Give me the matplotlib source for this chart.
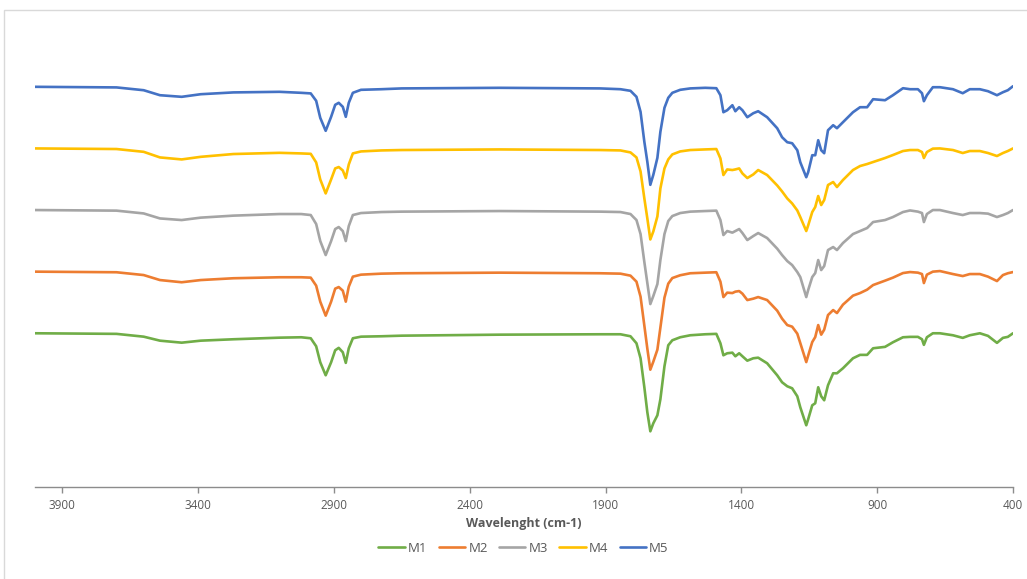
import matplotlib
matplotlib.use("Agg")
import matplotlib.pyplot as plt
from matplotlib.patches import Rectangle

plt.rcParams['font.family'] = ['Open Sans', 'DejaVu Sans']

# wavenumbers (cm-1) shared by all spectra
wavenumber = [
    4000, 3700, 3600, 3540, 3460, 3390, 3270, 3100,
    3020, 2985, 2965, 2950, 2930, 2910, 2895, 2882, 2867, 2856, 2845, 2830, 2800, 2725,
    2650, 2290, 1920,
    1845, 1808, 1786, 1771, 1757, 1746, 1735, 1724, 1709, 1698, 1683, 1669, 1654, 1625, 1588, 1533,
    1492, 1477, 1466, 1452, 1433, 1422, 1408, 1396, 1378, 1356, 1338, 1305, 1268, 1250, 1231, 1213,
    1194, 1183, 1161, 1154, 1139, 1128, 1117, 1106, 1095, 1081, 1062, 1048, 1026, 989, 963, 937,
    915, 871, 842, 805, 779, 750, 735, 728, 717, 695, 669, 621, 585, 559, 522, 492, 459, 437, 419, 400,
]

# transmittance (%)
m1 = [
    100.0, 99.7, 98.3, 96.3, 95.3, 96.3, 97.0, 97.8,
    98.0, 97.5, 93.5, 85.5, 79.0, 85.5, 91.5, 92.7, 90.5, 85.2, 92.5, 97.5, 98.3, 98.5,
    98.8, 99.3, 99.5,
    99.5, 98.5, 95.0, 87.5, 73.0, 60.5, 51.0, 55.0, 59.0, 67.0, 83.5, 94.0, 96.5, 98.0, 99.0, 99.5,
    99.7, 95.0, 89.0, 90.0, 90.3, 88.5, 90.0, 88.5, 86.3, 87.5, 87.8, 85.0, 79.0, 75.5, 73.5, 72.5,
    68.5, 63.0, 54.0, 57.0, 64.0, 65.0, 73.0, 68.5, 66.5, 74.0, 80.0, 80.0, 82.5, 87.5, 89.2, 89.2,
    92.5, 93.2, 95.5, 98.0, 98.2, 98.2, 97.0, 94.2, 98.0, 100.0, 100.0, 99.0, 97.7, 99.0, 100.0, 98.7,
    95.2, 97.7, 98.2, 100.0,
]
m2 = [
    100.0, 99.7, 98.3, 95.8, 94.7, 95.8, 96.7, 97.2,
    97.2, 97.0, 93.0, 85.0, 78.0, 85.0, 91.5, 92.3, 90.5, 85.0, 92.5, 97.5, 98.5, 99.0,
    99.2, 99.5, 99.2,
    99.0, 98.0, 95.0, 87.5, 73.0, 61.5, 51.0, 55.0, 61.0, 72.0, 87.0, 94.0, 96.8, 98.2, 99.2, 99.5,
    99.7, 95.0, 87.3, 89.5, 89.3, 90.0, 90.3, 89.0, 85.8, 86.5, 87.3, 85.8, 80.5, 76.5, 73.3, 72.5,
    69.0, 64.3, 54.8, 58.0, 64.8, 67.3, 73.3, 68.5, 71.0, 78.3, 80.8, 79.3, 83.5, 88.0, 89.3, 91.0,
    93.3, 95.5, 97.0, 99.3, 99.8, 99.5, 98.8, 94.3, 98.5, 100.0, 100.3, 98.8, 97.8, 98.8, 98.8, 97.5,
    95.3, 98.3, 99.2, 99.8,
]
m3 = [
    100.0, 99.7, 98.3, 95.8, 95.0, 96.2, 97.2, 98.0,
    98.0, 97.5, 93.0, 84.5, 77.5, 84.5, 90.5, 91.5, 89.5, 84.5, 92.0, 97.5, 98.5, 99.0,
    99.2, 99.5, 99.2,
    99.0, 98.0, 95.0, 88.0, 74.0, 63.5, 53.0, 57.0, 63.0, 75.0, 88.0, 94.5, 97.0, 98.5, 99.2, 99.5,
    99.7, 95.0, 87.5, 89.5, 88.7, 89.5, 90.5, 88.5, 85.0, 87.0, 88.5, 86.0, 80.7, 77.5, 74.5, 72.5,
    69.0, 66.5, 56.5, 60.0, 66.5, 68.5, 75.0, 70.0, 72.0, 80.0, 81.5, 80.0, 83.5, 88.0, 89.5, 91.0,
    94.0, 95.0, 96.5, 99.0, 99.8, 99.2, 98.5, 94.0, 98.0, 100.0, 100.0, 98.5, 97.5, 98.5, 98.5, 98.2,
    96.5, 97.5, 98.5, 100.0,
]
m4 = [
    100.0, 99.7, 98.3, 95.5, 94.5, 95.8, 97.2, 97.8,
    97.5, 97.3, 93.0, 84.5, 77.5, 84.5, 90.0, 90.7, 89.0, 85.2, 92.0, 97.5, 98.5, 99.0,
    99.2, 99.5, 99.2,
    99.0, 98.0, 95.5, 88.5, 75.0, 65.0, 54.5, 58.5, 66.0, 80.0, 90.0, 94.5, 97.0, 98.5, 99.2, 99.5,
    99.7, 95.0, 86.7, 89.5, 89.2, 89.5, 90.0, 87.5, 85.2, 87.0, 89.2, 86.7, 81.5, 78.5, 75.0, 72.5,
    69.0, 65.7, 58.7, 61.5, 68.2, 70.7, 76.2, 71.7, 74.2, 81.7, 83.2, 80.7, 84.2, 89.2, 91.2, 92.2,
    93.2, 95.2, 96.7, 98.7, 99.2, 99.2, 98.2, 95.2, 98.2, 99.9, 100.0, 99.2, 97.7, 98.7, 98.7, 97.7,
    96.2, 97.7, 98.7, 100.0,
]
m5 = [
    100.0, 99.7, 98.3, 95.8, 95.0, 96.3, 97.2, 97.5,
    97.0, 96.7, 93.0, 84.5, 78.0, 85.0, 91.0, 92.0, 90.0, 85.0, 92.0, 97.0, 98.5, 98.8,
    99.2, 99.5, 99.2,
    98.8, 98.0, 95.0, 87.5, 72.5, 62.5, 51.0, 56.0, 64.5, 77.5, 89.5, 94.5, 97.0, 98.5, 99.2, 99.5,
    99.3, 95.8, 87.3, 88.3, 90.8, 87.8, 89.8, 88.3, 84.8, 86.8, 87.8, 84.8, 79.3, 74.8, 72.3, 71.8,
    68.3, 62.3, 54.8, 57.3, 65.8, 65.8, 73.3, 68.3, 66.8, 78.3, 80.8, 79.3, 82.3, 87.3, 89.8, 89.8,
    93.8, 93.3, 95.8, 99.3, 98.8, 98.8, 96.8, 92.8, 95.8, 99.8, 99.8, 98.8, 96.8, 98.8, 98.8, 97.8,
    95.8, 97.3, 98.3, 100.3,
]

labels = ["M1", "M2", "M3", "M4", "M5"]
spectra = [m1, m2, m3, m4, m5]
colors = ["#70AD47", "#ED7D31", "#A5A5A5", "#FFC000", "#4472C4"]
stack_step = 30.8  # vertical shift between stacked spectra

W, H = 1027, 579
fig = plt.figure(figsize=(W / 100, H / 100), dpi=100)
ax = fig.add_axes([35 / W, 1 - 486.7 / H, (1013 - 35) / W, (486.7 - 20) / H])

for i, (lab, y, c) in enumerate(zip(labels, spectra, colors)):
    ax.plot(wavenumber, [v + i * stack_step for v in y], color=c, lw=1.9, label=lab,
            solid_joinstyle='round', solid_capstyle='round')

ax.set_xlim(4000, 400)
ax.set_ylim(23.3, 256.6)
ax.set_xticks([3900, 3400, 2900, 2400, 1900, 1400, 900, 400])
ax.set_yticks([])
for s in ["top", "right", "left"]:
    ax.spines[s].set_visible(False)
ax.spines["bottom"].set_color("#8c8c8c")
ax.spines["bottom"].set_linewidth(1.0)
ax.tick_params(axis="x", direction="out", length=4, width=1, color="#8c8c8c",
               labelsize=8.5, labelcolor="#595959", pad=5)

fig.text(524 / W, 1 - 523 / H, "Wavelenght (cm-1)", ha="center", va="center",
         fontsize=9, fontweight="bold", color="#595959")

fig.legend(loc="center", bbox_to_anchor=(523.5 / W, 1 - 548 / H), ncol=5, frameon=False,
           fontsize=9.5, labelcolor="#595959", handlelength=2.0, handletextpad=0.25,
           columnspacing=0.85)

fig.patches.append(Rectangle((4 / W, -0.02), 1.1, 1 - 10 / H + 0.02, transform=fig.transFigure,
                             fill=False, edgecolor="#d9d9d9", lw=1))

fig.savefig("out.png", dpi=100)
